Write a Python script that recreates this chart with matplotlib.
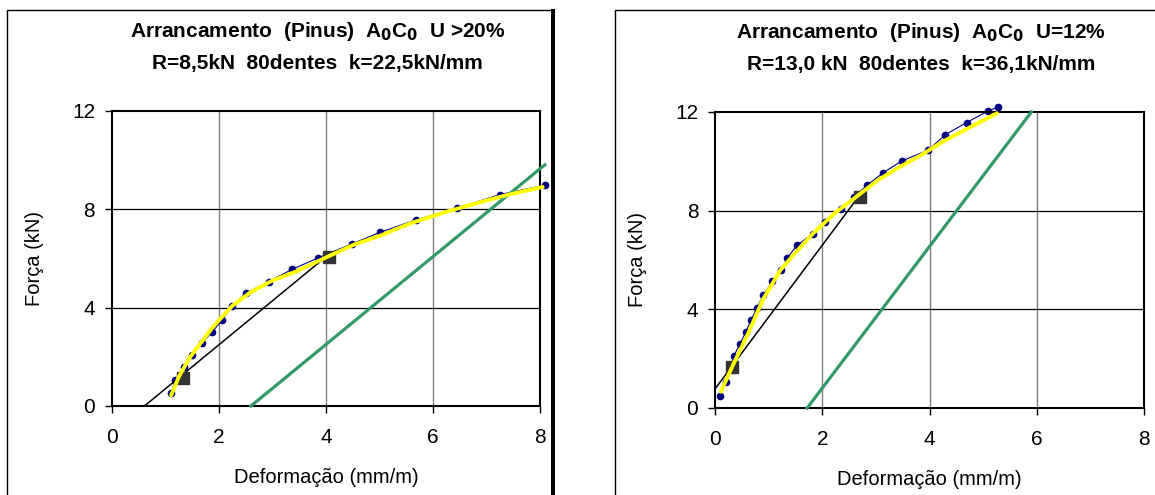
import matplotlib
matplotlib.use("Agg")
import matplotlib.pyplot as plt
from matplotlib.patches import Rectangle

plt.rcParams['font.family'] = ['Liberation Sans', 'DejaVu Sans']

# ---- left panel: U > 20% ----
l_dots_x = [1.10, 1.19, 1.34, 1.49, 1.68, 1.88, 2.06, 2.25, 2.50, 2.93, 3.37, 3.85,
            4.48, 5.02, 5.68, 6.44, 7.25, 8.09]
l_dots_y = [0.51, 1.05, 1.59, 2.08, 2.56, 3.02, 3.50, 4.08, 4.58, 5.06, 5.56, 6.02,
            6.59, 7.07, 7.57, 8.04, 8.60, 8.98]
l_fit_x = [1.11, 1.25, 1.45, 1.65, 1.91, 2.25, 2.58, 2.98, 3.45, 3.98, 4.52, 4.98,
           5.58, 6.25, 6.92, 7.38, 8.05]
l_fit_y = [0.44, 1.18, 1.95, 2.53, 3.27, 4.07, 4.61, 5.08, 5.48, 6.02, 6.56, 6.90,
           7.43, 7.90, 8.31, 8.58, 8.91]
l_sq_x = [1.33, 4.05]
l_sq_y = [1.14, 6.05]
l_sec_x = [0.61, 4.03]
l_sec_y = [0.0, 6.12]
l_off_x = [2.60, 8.09]
l_off_y = [0.0, 9.81]

# ---- right panel: U = 12% ----
r_dots_x = [0.09, 0.20, 0.30, 0.35, 0.46, 0.57, 0.67, 0.78, 0.90, 1.07, 1.24, 1.35,
            1.53, 1.83, 2.05, 2.35, 2.60, 2.84, 3.14, 3.48, 3.98, 4.29, 4.69, 5.09, 5.28]
r_dots_y = [0.50, 1.05, 1.60, 2.11, 2.58, 3.06, 3.56, 4.04, 4.56, 5.13, 5.60, 6.09,
            6.60, 7.07, 7.55, 8.05, 8.57, 9.04, 9.54, 10.01, 10.46, 11.07, 11.57, 12.04, 12.2]
r_fit_x = [0.11, 0.35, 0.62, 0.89, 1.22, 1.49, 1.83, 2.23, 2.64, 3.04, 3.45, 3.85,
           4.25, 4.72, 5.26]
r_fit_y = [0.66, 1.81, 3.03, 4.38, 5.59, 6.27, 7.08, 7.89, 8.57, 9.24, 9.78, 10.26,
           10.80, 11.34, 11.95]
r_sq_x = [0.32, 2.71]
r_sq_y = [1.68, 8.54]
r_sec_x = [0.01, 2.66]
r_sec_y = [0.80, 8.52]
r_off_x = [1.72, 5.90]
r_off_y = [0.0, 12.0]

x_ticks = [0, 2, 4, 6, 8]
y_ticks = [0, 4, 8, 12]

titles = [
    "Arrancamento  (Pinus)  A$_\\mathbf{0}$C$_\\mathbf{0}$  U >20%\nR=8,5kN  80dentes  k=22,5kN/mm",
    "Arrancamento  (Pinus)  A$_\\mathbf{0}$C$_\\mathbf{0}$  U=12%\nR=13,0 kN  80dentes  k=36,1kN/mm",
]

fig = plt.figure(figsize=(11.55, 4.95), dpi=100)

# panel frames (chart area borders)
W, H = 1155, 495
fig.add_artist(Rectangle((7 / W, -0.01), 545 / W, 1 - 10 / H + 0.01,
                         transform=fig.transFigure, fill=False, ec='black', lw=1.0))
fig.add_artist(Rectangle((551 / W, -0.01), 4 / W, 1 - 9 / H + 0.01,
                         transform=fig.transFigure, fc='black', ec='none'))
fig.add_artist(Rectangle((615 / W, -0.01), 560 / W, 1 - 10 / H + 0.01,
                         transform=fig.transFigure, fill=False, ec='black', lw=1.0))

ax1 = fig.add_axes([111.8 / W, 0.1798, 428.2 / W, 0.596])
ax2 = fig.add_axes([715 / W, 0.1758, 429 / W, 0.598])

panels = [
    (ax1, l_dots_x, l_dots_y, l_fit_x, l_fit_y, l_sq_x, l_sq_y, l_sec_x, l_sec_y, l_off_x, l_off_y),
    (ax2, r_dots_x, r_dots_y, r_fit_x, r_fit_y, r_sq_x, r_sq_y, r_sec_x, r_sec_y, r_off_x, r_off_y),
]

for i, (ax, dx, dy, fx, fy, sx, sy, kx, ky, ox, oy) in enumerate(panels):
    ax.set_xlim(0, 8)
    ax.set_ylim(0, 12)
    ax.set_xticks(x_ticks)
    ax.set_yticks(y_ticks)
    for v in x_ticks[1:-1]:
        ax.axvline(v, color='#808080', lw=1.0, zorder=0)
    for v in y_ticks[1:-1]:
        ax.axhline(v, color='black', lw=0.9, zorder=0)
    ax.plot(dx, dy, color='#000080', lw=0.8, marker='o', ms=4.5, zorder=2, clip_on=False)
    ax.plot(kx, ky, color='black', lw=1.1, zorder=3, clip_on=False)
    ax.plot(sx, sy, ls='none', marker='s', ms=9, color='#333333', zorder=3)
    ax.plot(ox, oy, color='#339966', lw=2.3, zorder=3, clip_on=False)
    ax.plot(fx, fy, color='#FFFF00', lw=2.8, zorder=4, clip_on=False,
            solid_capstyle='round')
    for s in ax.spines.values():
        s.set_linewidth(1.5)
    ax.tick_params(direction='out', length=5, width=1, labelsize=15)
    ax.tick_params(axis='x', pad=11)
    ax.tick_params(axis='y', pad=7)
    ax.set_xlabel("Deformação (mm/m)", fontsize=14.5, labelpad=15)
    ax.set_ylabel("Força (kN)", fontsize=14.5, labelpad=20)
    ax.set_title(titles[i], fontsize=15, fontweight='bold', pad=30, linespacing=1.75,
                 x=0.48)

fig.savefig("out.png", dpi=100)
